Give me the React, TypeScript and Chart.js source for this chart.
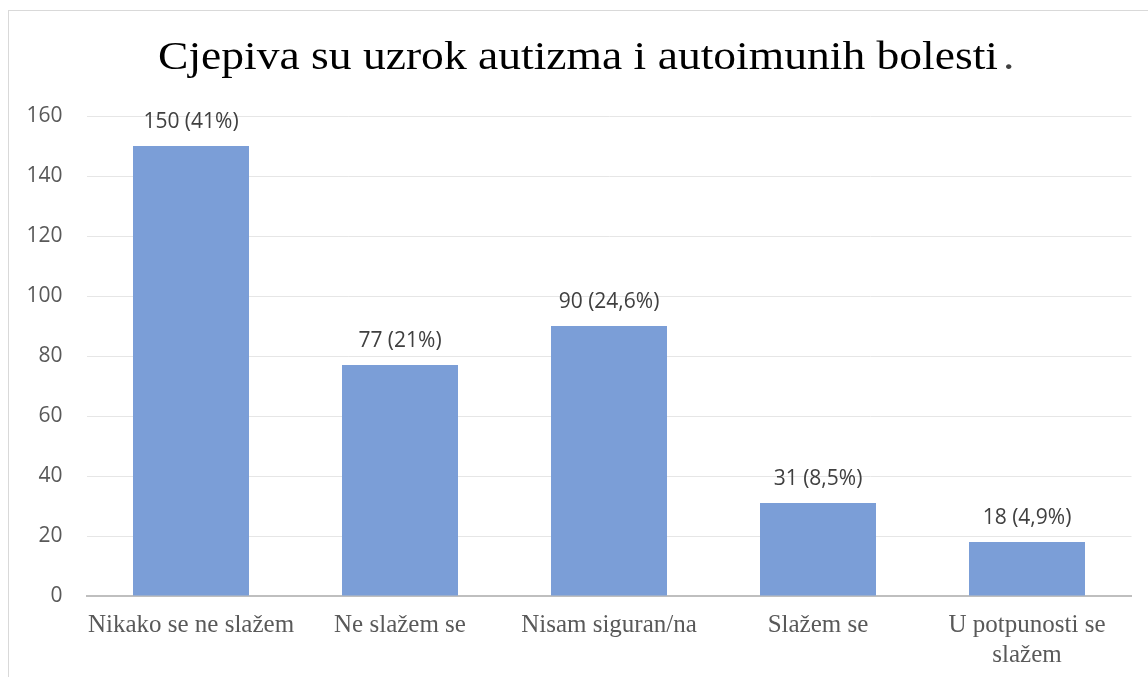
import React, { useEffect, useRef } from "react";
import { Chart, registerables } from "chart.js";

Chart.register(...registerables);

const TITLE = "Cjepiva su uzrok autizma i autoimunih bolesti.";
const categories: (string | string[])[] = [
  "Nikako se ne slažem",
  "Ne slažem se",
  "Nisam siguran/na",
  "Slažem se",
  ["U potpunosti se", "slažem"],
];
const counts = [150, 77, 90, 31, 18];
const percents = ["41%", "21%", "24,6%", "8,5%", "4,9%"];
const yMin = 0;
const yMax = 160;
const yStep = 20;

const dataLabelPlugin = {
  id: "dataLabels",
  afterDatasetsDraw(chart: any) {
    const ctx = chart.ctx;
    const meta = chart.getDatasetMeta(0);
    ctx.save();
    ctx.font = '21px "Open Sans"';
    ctx.fillStyle = "#404040";
    ctx.textAlign = "center";
    ctx.textBaseline = "alphabetic";
    meta.data.forEach((bar: any, i: number) => {
      ctx.fillText(`${counts[i]} (${percents[i]})`, bar.x, bar.y - 18);
    });
    ctx.restore();
  },
};

const titlePlugin = {
  id: "customTitle",
  afterDraw(chart: any) {
    const ctx = chart.ctx;
    const main = TITLE.slice(0, -1);
    const tail = TITLE.slice(-1);
    const left = 158;
    const targetWidth = 840;
    ctx.save();
    ctx.font = '41px "Liberation Serif", "Times New Roman", serif';
    ctx.textAlign = "left";
    ctx.textBaseline = "alphabetic";
    const w = ctx.measureText(main).width;
    const sx = Math.min(1.14, targetWidth / w);
    const spacing = Math.max(0, (targetWidth / sx - w) / (main.length - 1));
    ctx.translate(left, 69);
    ctx.scale(sx, 1);
    ctx.fillStyle = "#000000";
    (ctx as any).letterSpacing = `${spacing}px`;
    ctx.fillText(main, 0, 0);
    (ctx as any).letterSpacing = "0px";
    ctx.fillStyle = "#404040";
    ctx.fillText(tail, (targetWidth + 5) / sx, 0);
    ctx.restore();
  },
};

export default function App() {
  const canvasRef = useRef<HTMLCanvasElement | null>(null);

  useEffect(() => {
    if (!canvasRef.current) return;
    const chart = new Chart(canvasRef.current, {
      type: "bar",
      data: {
        labels: categories,
        datasets: [
          {
            data: counts,
            backgroundColor: "#7b9ed7",
            barPercentage: 0.555,
            categoryPercentage: 1,
          },
        ],
      },
      options: {
        responsive: false,
        devicePixelRatio: 1,
        animation: false,
        layout: { padding: { left: 0, right: 16.5, top: 116, bottom: 0 } },
        plugins: {
          legend: { display: false },
          tooltip: { enabled: false },
          title: { display: false },
        },
        scales: {
          x: {
            grid: { display: false, drawTicks: false },
            border: { display: true, color: "#bfbfbf", width: 2 },
            ticks: {
              color: "#595959",
              padding: 14,
              maxRotation: 0,
              autoSkip: false,
              font: { family: '"Liberation Serif", "Times New Roman", serif', size: 25, lineHeight: 1.2 },
            },
            afterFit: (s: any) => {
              s.height = 81;
            },
          },
          y: {
            min: yMin,
            max: yMax,
            grid: { color: "#e6e6e6", lineWidth: 1, drawTicks: false },
            border: { display: false },
            ticks: {
              stepSize: yStep,
              color: "#595959",
              padding: 24,
              font: { family: '"Open Sans", sans-serif', size: 21 },
            },
            afterFit: (s: any) => {
              s.width = 86.5;
            },
          },
        },
      },
      plugins: [dataLabelPlugin, titlePlugin],
    });
    return () => chart.destroy();
  }, []);

  return (
    <div
      style={{
        position: "fixed",
        left: 0,
        top: 0,
        width: 1148,
        height: 677,
        overflow: "hidden",
        background: "#ffffff",
      }}
    >
      <div
        style={{
          position: "absolute",
          left: 8,
          top: 10,
          width: 1200,
          height: 720,
          border: "1px solid #d9d9d9",
          boxSizing: "border-box",
        }}
      />
      <canvas
        ref={canvasRef}
        width={1148}
        height={677}
        style={{ position: "absolute", left: 0, top: 0, width: 1148, height: 677 }}
      />
    </div>
  );
}
